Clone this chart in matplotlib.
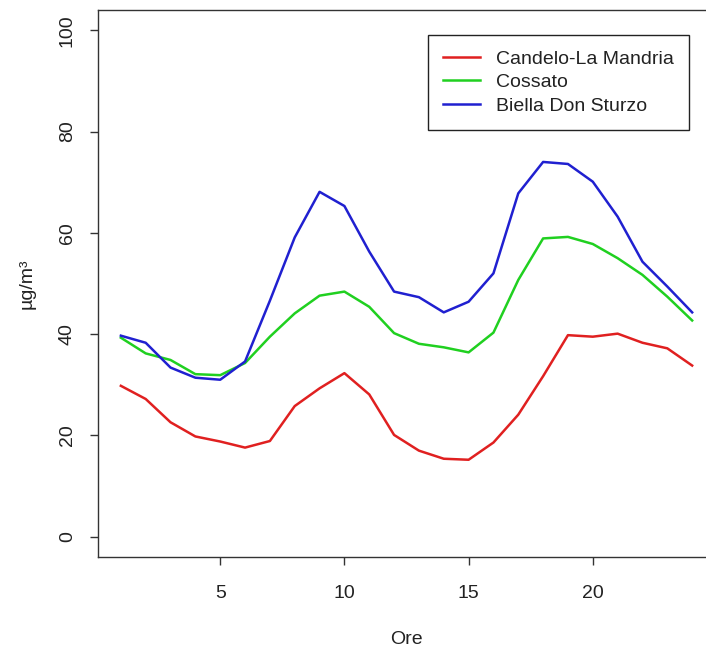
import matplotlib
matplotlib.use("Agg")
import matplotlib.pyplot as plt
from matplotlib.ticker import FixedLocator

# Hourly mean concentrations (µg/m³) per monitoring station
hours = list(range(1, 25))
candelo = [29.8, 27.2, 22.6, 19.8, 18.8, 17.6, 18.9, 25.8, 29.3, 32.3, 28.1, 20.1,
           17.0, 15.4, 15.2, 18.6, 24.1, 31.7, 39.8, 39.5, 40.1, 38.3, 37.2, 33.8]
cossato = [39.3, 36.2, 34.9, 32.1, 31.9, 34.3, 39.5, 44.1, 47.6, 48.4, 45.4, 40.2,
           38.1, 37.4, 36.4, 40.3, 50.7, 58.9, 59.2, 57.8, 55.0, 51.7, 47.4, 42.7]
biella = [39.7, 38.3, 33.4, 31.4, 31.0, 34.6, 46.6, 59.1, 68.1, 65.3, 56.3, 48.4,
          47.3, 44.3, 46.4, 52.0, 67.8, 74.0, 73.6, 70.1, 63.2, 54.3, 49.4, 44.3]

series_names = ["Candelo-La Mandria", "Cossato", "Biella Don Sturzo"]
series_colors = ["#E02020", "#20D020", "#2020D0"]
x_ticks = [5, 10, 15, 20]
y_ticks = [0, 20, 40, 60, 80, 100]

plt.rcParams["font.family"] = ["Liberation Sans", "DejaVu Sans"]
fig = plt.figure(figsize=(7.06, 6.54), dpi=100)
W, H = 706, 654
left, right, top, bottom = 98, 715, 10, 557
ax = fig.add_axes([left / W, 1 - bottom / H, (right - left) / W, (bottom - top) / H])

for vals, name, col in zip([candelo, cossato, biella], series_names, series_colors):
    ax.plot(hours, vals, color=col, lw=1.8, label=name, solid_joinstyle="round")

# R-style axis extents (4% padding)
xr = hours[-1] - hours[0]
ax.set_xlim(hours[0] - 0.04 * xr, hours[-1] + 0.04 * xr)
ax.set_ylim(-4, 104)

ax.xaxis.set_major_locator(FixedLocator(x_ticks))
ax.yaxis.set_major_locator(FixedLocator(y_ticks))
ax.set_xticklabels([str(t) for t in x_ticks], fontsize=14, color="#222222")
ax.set_yticklabels([str(t) for t in y_ticks], fontsize=14, rotation=90, va="center",
                   color="#222222")
ax.tick_params(axis="both", direction="out", length=6, width=1, color="#333333")
ax.tick_params(axis="x", pad=14)
ax.tick_params(axis="y", pad=10)
for s in ax.spines.values():
    s.set_color("#333333")
    s.set_linewidth(1)

ax.set_xlabel("Ore", fontsize=14, labelpad=21, color="#222222")
ax.set_ylabel("µg/m³", fontsize=14, labelpad=16.5, color="#222222")

leg = ax.legend(loc="upper left", bbox_to_anchor=((428 - left) / (right - left), (bottom - 35) / (bottom - top)),
                borderaxespad=0, fancybox=False, edgecolor="#222222", framealpha=1,
                fontsize=14, handlelength=1.9, handletextpad=0.8, labelspacing=0.3,
                borderpad=0.78)
leg.get_frame().set_linewidth(1)
for t in leg.get_texts():
    t.set_color("#222222")

fig.savefig("out.png", dpi=100)
